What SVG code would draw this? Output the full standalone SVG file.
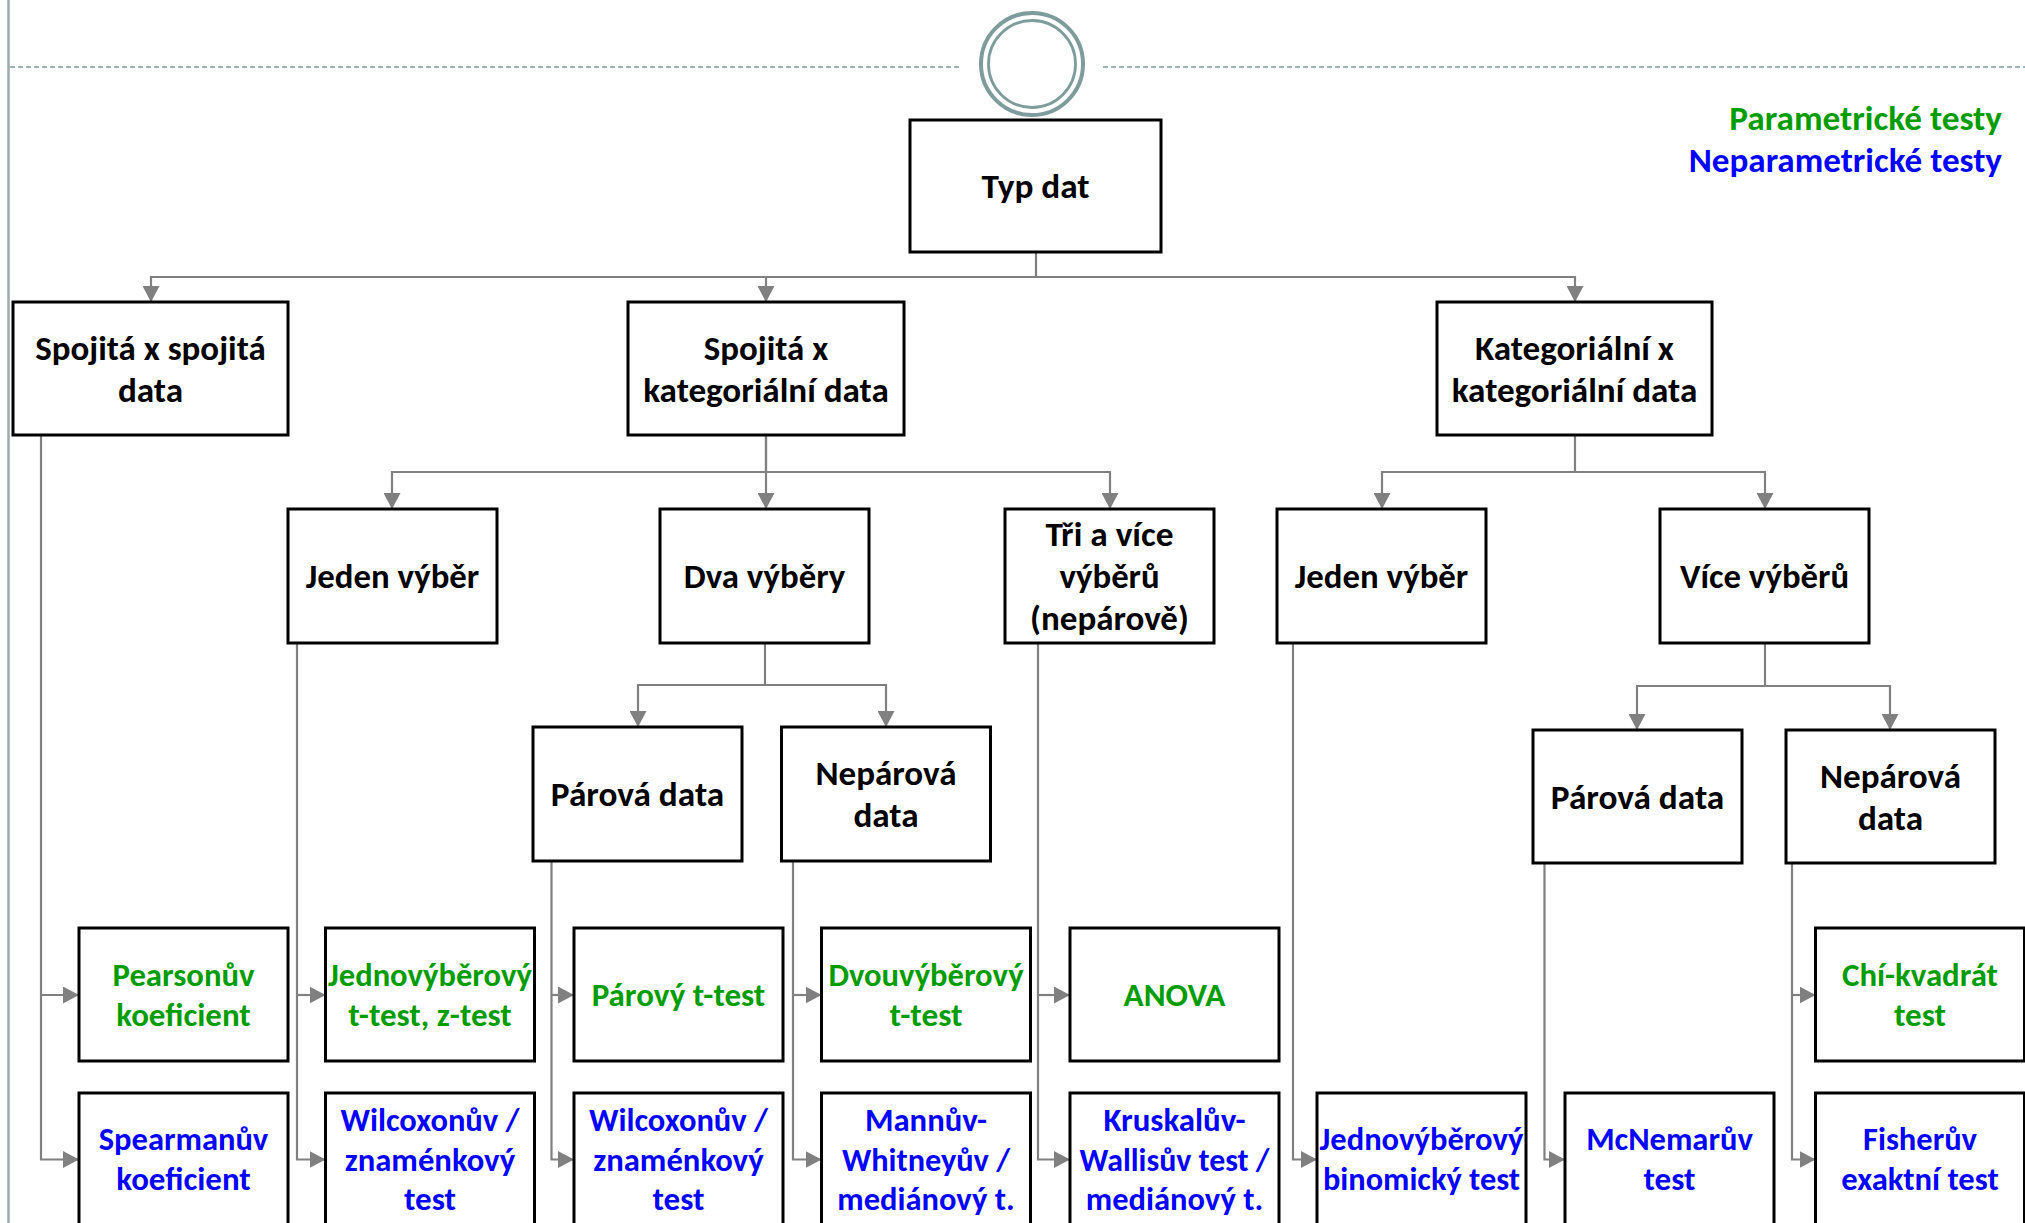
<svg xmlns="http://www.w3.org/2000/svg" width="2025" height="1223" viewBox="0 0 2025 1223">
<defs>
<marker id="arr" viewBox="0 0 16 17" refX="16" refY="8.5" markerWidth="16" markerHeight="17" markerUnits="userSpaceOnUse" orient="auto">
<path d="M0,0 L16,8.5 L0,17 z" fill="#808080"/>
</marker>
<style>
.box{fill:#fff;stroke:#000;stroke-width:3}
.t{font-family:Carlito,'Liberation Sans Narrow','Liberation Sans',Arial,sans-serif;font-weight:bold;text-anchor:middle}
.k{font-size:34.8px;fill:#000}
.g{font-size:32.5px;fill:#009c00}
.b{font-size:32.5px;fill:#0000ff}
#connectors path{fill:none;stroke:#808080;stroke-width:2.2;marker-end:url(#arr)}
.deco{fill:none;stroke:#7f9c9c}
</style>
</defs>
<rect width="2025" height="1223" fill="#fff"/>

<g id="decor">
<line class="deco" x1="8.5" y1="0" x2="8.5" y2="1223" stroke-width="2.5" style="stroke:#9aabab"/>
<line class="deco" x1="10" y1="67" x2="960" y2="67" stroke-width="1.5" stroke-dasharray="5 3"/>
<line class="deco" x1="1103" y1="67" x2="2025" y2="67" stroke-width="1.5" stroke-dasharray="5 3"/>
<circle class="deco" cx="1032" cy="64" r="51" stroke-width="4"/>
<circle class="deco" cx="1032" cy="64" r="43.5" stroke-width="2.8"/>
</g>

<g id="legend">
<text class="t g" style="font-size:34.8px;text-anchor:end" x="2002" y="130" textLength="272.7" lengthAdjust="spacingAndGlyphs">Parametrické testy</text>
<text class="t b" style="font-size:34.8px;text-anchor:end" x="2002" y="172" textLength="313.3" lengthAdjust="spacingAndGlyphs">Neparametrické testy</text>
</g>

<g id="connectors">
<path d="M1036 252 V277 H151 V302"/>
<path d="M1036 277 H766 V302"/>
<path d="M1036 277 H1575 V302"/>
<path d="M766 435 V472 H392 V509"/>
<path d="M766 435 V509"/>
<path d="M766 472 H1110 V509"/>
<path d="M1575 435 V472 H1382 V509"/>
<path d="M1575 472 H1765 V509"/>
<path d="M765 643 V685 H638 V727"/>
<path d="M765 685 H886 V727"/>
<path d="M1765 643 V686 H1637 V730"/>
<path d="M1765 686 H1890 V730"/>
<path d="M41 435 V1159.5 H79"/>
<path d="M41 995 H79"/>
<path d="M297 643 V1159.5 H325.5"/>
<path d="M297 995 H325.5"/>
<path d="M551.5 861 V1159.5 H574"/>
<path d="M551.5 995 H574"/>
<path d="M793 861 V1159.5 H821.5"/>
<path d="M793 995 H821.5"/>
<path d="M1038 643 V1159.5 H1070"/>
<path d="M1038 995 H1070"/>
<path d="M1293 643 V1159.5 H1317"/>
<path d="M1544.5 863 V1159.5 H1565"/>
<path d="M1792 863 V1159.5 H1815.5"/>
<path d="M1792 995 H1815.5"/>
</g>

<g id="typ-dat"><rect class="box" x="910" y="120" width="251" height="132"/>
<text class="t k" x="1035.5" y="198" textLength="108.2" lengthAdjust="spacingAndGlyphs">Typ dat</text></g>

<g id="spojita-spojita"><rect class="box" x="13" y="302" width="275" height="133"/>
<text class="t k" x="150.5" y="359.5" textLength="230.3" lengthAdjust="spacingAndGlyphs">Spojitá x spojitá</text>
<text class="t k" x="150.5" y="401.5" textLength="65.1" lengthAdjust="spacingAndGlyphs">data</text></g>

<g id="spojita-kategorialni"><rect class="box" x="628" y="302" width="276" height="133"/>
<text class="t k" x="766" y="359.5" textLength="124.4" lengthAdjust="spacingAndGlyphs">Spojitá x</text>
<text class="t k" x="766" y="401.5" textLength="245.6" lengthAdjust="spacingAndGlyphs">kategoriální data</text></g>

<g id="kategorialni-kategorialni"><rect class="box" x="1437" y="302" width="275" height="133"/>
<text class="t k" x="1574.5" y="359.5" textLength="198.8" lengthAdjust="spacingAndGlyphs">Kategoriální x</text>
<text class="t k" x="1574.5" y="401.5" textLength="245.6" lengthAdjust="spacingAndGlyphs">kategoriální data</text></g>

<g id="jeden-vyber-1"><rect class="box" x="288" y="509" width="209" height="134"/>
<text class="t k" x="392.5" y="588" textLength="173.3" lengthAdjust="spacingAndGlyphs">Jeden výběr</text></g>

<g id="dva-vybery"><rect class="box" x="660" y="509" width="209" height="134"/>
<text class="t k" x="764.5" y="588" textLength="161.4" lengthAdjust="spacingAndGlyphs">Dva výběry</text></g>

<g id="tri-a-vice"><rect class="box" x="1005" y="509" width="209" height="134"/>
<text class="t k" x="1109.5" y="546" textLength="128.1" lengthAdjust="spacingAndGlyphs">Tři a více</text>
<text class="t k" x="1109.5" y="588" textLength="100.2" lengthAdjust="spacingAndGlyphs">výběrů</text>
<text class="t k" x="1109.5" y="630" textLength="158.8" lengthAdjust="spacingAndGlyphs">(nepárově)</text></g>

<g id="jeden-vyber-2"><rect class="box" x="1277" y="509" width="209" height="134"/>
<text class="t k" x="1381.5" y="588" textLength="173.3" lengthAdjust="spacingAndGlyphs">Jeden výběr</text></g>

<g id="vice-vyberu"><rect class="box" x="1660" y="509" width="209" height="134"/>
<text class="t k" x="1764.5" y="588" textLength="169.2" lengthAdjust="spacingAndGlyphs">Více výběrů</text></g>

<g id="parova-data-1"><rect class="box" x="533" y="727" width="209" height="134"/>
<text class="t k" x="637.5" y="806" textLength="173.4" lengthAdjust="spacingAndGlyphs">Párová data</text></g>

<g id="neparova-data-1"><rect class="box" x="781.5" y="727" width="209" height="134"/>
<text class="t k" x="886" y="785" textLength="141" lengthAdjust="spacingAndGlyphs">Nepárová</text>
<text class="t k" x="886" y="827" textLength="65.1" lengthAdjust="spacingAndGlyphs">data</text></g>

<g id="parova-data-2"><rect class="box" x="1533" y="730" width="209" height="133"/>
<text class="t k" x="1637.5" y="808.5" textLength="173.4" lengthAdjust="spacingAndGlyphs">Párová data</text></g>

<g id="neparova-data-2"><rect class="box" x="1786" y="730" width="209" height="133"/>
<text class="t k" x="1890.5" y="787.5" textLength="141" lengthAdjust="spacingAndGlyphs">Nepárová</text>
<text class="t k" x="1890.5" y="829.5" textLength="65.1" lengthAdjust="spacingAndGlyphs">data</text></g>

<g id="pearson"><rect class="box" x="79" y="928" width="209" height="133"/>
<text class="t g" x="183.5" y="986" textLength="142" lengthAdjust="spacingAndGlyphs">Pearsonův</text>
<text class="t g" x="183.5" y="1025.5" textLength="134.4" lengthAdjust="spacingAndGlyphs">koeficient</text></g>

<g id="jednovyberovy-t-test"><rect class="box" x="325.5" y="928" width="209" height="133"/>
<text class="t g" x="430" y="986" textLength="203.9" lengthAdjust="spacingAndGlyphs">Jednovýběrový</text>
<text class="t g" x="430" y="1025.5" textLength="163.5" lengthAdjust="spacingAndGlyphs">t-test, z-test</text></g>

<g id="parovy-t-test"><rect class="box" x="574" y="928" width="209" height="133"/>
<text class="t g" x="678.5" y="1005.5" textLength="173.6" lengthAdjust="spacingAndGlyphs">Párový t-test</text></g>

<g id="dvouvyberovy-t-test"><rect class="box" x="821.5" y="928" width="209" height="133"/>
<text class="t g" x="926" y="986" textLength="195.2" lengthAdjust="spacingAndGlyphs">Dvouvýběrový</text>
<text class="t g" x="926" y="1025.5" textLength="73.1" lengthAdjust="spacingAndGlyphs">t-test</text></g>

<g id="anova"><rect class="box" x="1070" y="928" width="209" height="133"/>
<text class="t g" x="1174.5" y="1005.5" textLength="102" lengthAdjust="spacingAndGlyphs">ANOVA</text></g>

<g id="chi-kvadrat"><rect class="box" x="1815.5" y="928" width="209" height="133"/>
<text class="t g" x="1920" y="986" textLength="155.9" lengthAdjust="spacingAndGlyphs">Chí-kvadrát</text>
<text class="t g" x="1920" y="1025.5" textLength="51.9" lengthAdjust="spacingAndGlyphs">test</text></g>

<g id="spearman"><rect class="box" x="79" y="1093" width="209" height="134"/>
<text class="t b" x="183.5" y="1150" textLength="169.5" lengthAdjust="spacingAndGlyphs">Spearmanův</text>
<text class="t b" x="183.5" y="1189.5" textLength="134.4" lengthAdjust="spacingAndGlyphs">koeficient</text></g>

<g id="wilcoxon-1"><rect class="box" x="325.5" y="1093" width="209" height="134"/>
<text class="t b" x="430" y="1131" textLength="179.1" lengthAdjust="spacingAndGlyphs">Wilcoxonův /</text>
<text class="t b" x="430" y="1170.5" textLength="170.5" lengthAdjust="spacingAndGlyphs">znaménkový</text>
<text class="t b" x="430" y="1210" textLength="51.9" lengthAdjust="spacingAndGlyphs">test</text></g>

<g id="wilcoxon-2"><rect class="box" x="574" y="1093" width="209" height="134"/>
<text class="t b" x="678.5" y="1131" textLength="179.1" lengthAdjust="spacingAndGlyphs">Wilcoxonův /</text>
<text class="t b" x="678.5" y="1170.5" textLength="170.5" lengthAdjust="spacingAndGlyphs">znaménkový</text>
<text class="t b" x="678.5" y="1210" textLength="51.9" lengthAdjust="spacingAndGlyphs">test</text></g>

<g id="mann-whitney"><rect class="box" x="821.5" y="1093" width="209" height="134"/>
<text class="t b" x="926" y="1131" textLength="122.1" lengthAdjust="spacingAndGlyphs">Mannův-</text>
<text class="t b" x="926" y="1170.5" textLength="168.1" lengthAdjust="spacingAndGlyphs">Whitneyův /</text>
<text class="t b" x="926" y="1210" textLength="177.3" lengthAdjust="spacingAndGlyphs">mediánový t.</text></g>

<g id="kruskal-wallis"><rect class="box" x="1070" y="1093" width="209" height="134"/>
<text class="t b" x="1174.5" y="1131" textLength="142.2" lengthAdjust="spacingAndGlyphs">Kruskalův-</text>
<text class="t b" x="1174.5" y="1170.5" textLength="190" lengthAdjust="spacingAndGlyphs">Wallisův test /</text>
<text class="t b" x="1174.5" y="1210" textLength="177.3" lengthAdjust="spacingAndGlyphs">mediánový t.</text></g>

<g id="binomicky-test"><rect class="box" x="1317" y="1093" width="209" height="134"/>
<text class="t b" x="1421.5" y="1150" textLength="203.9" lengthAdjust="spacingAndGlyphs">Jednovýběrový</text>
<text class="t b" x="1421.5" y="1189.5" textLength="197" lengthAdjust="spacingAndGlyphs">binomický test</text></g>

<g id="mcnemar"><rect class="box" x="1565" y="1093" width="209" height="134"/>
<text class="t b" x="1669.5" y="1150" textLength="166.6" lengthAdjust="spacingAndGlyphs">McNemarův</text>
<text class="t b" x="1669.5" y="1189.5" textLength="51.9" lengthAdjust="spacingAndGlyphs">test</text></g>

<g id="fisher"><rect class="box" x="1815.5" y="1093" width="209" height="134"/>
<text class="t b" x="1920" y="1150" textLength="114" lengthAdjust="spacingAndGlyphs">Fisherův</text>
<text class="t b" x="1920" y="1189.5" textLength="157.5" lengthAdjust="spacingAndGlyphs">exaktní test</text></g>
</svg>
